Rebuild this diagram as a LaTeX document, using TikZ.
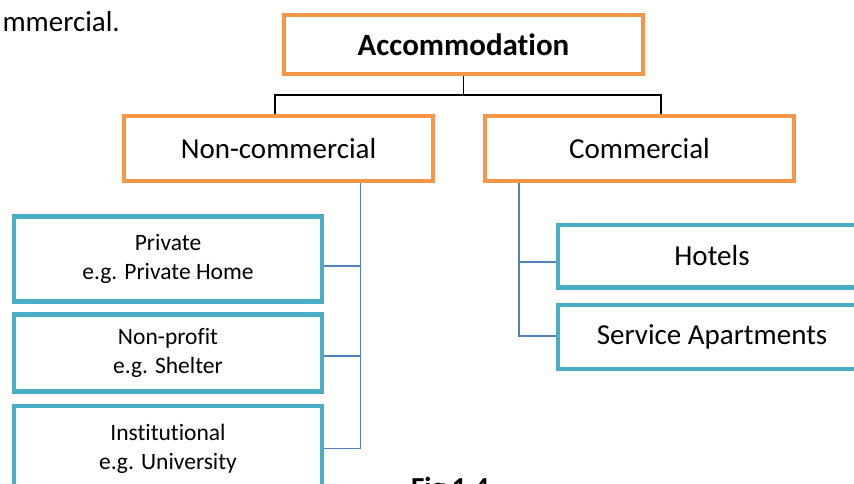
\documentclass[tikz,border=0pt]{standalone}
\usepackage{fontspec}
\setmainfont{Carlito}[Ligatures=NoCommon]
\usetikzlibrary{calc}
\definecolor{accorange}{HTML}{F79646}
\definecolor{accteal}{HTML}{4BACC6}
\definecolor{accblue}{HTML}{4F81BD}

\begin{document}
\begin{tikzpicture}[x=1pt,y=-1pt,
  topbox/.style={draw=accorange,line width=4.5pt,inner sep=0pt,align=center},
  subbox/.style={draw=accteal,line width=4.5pt,inner sep=0pt,align=center},
  bigtext/.style={font=\fontsize{29}{35}\selectfont},
  smalltext/.style={font=\fontsize{23.5}{29}\selectfont},
  blackline/.style={draw=black,line width=1.5pt},
  blueline/.style={draw=accblue,line width=1.8pt}]
  \useasboundingbox (0,0) rectangle (854,483);
  \clip (0,0) rectangle (854,483);
% 
  \node[bigtext,anchor=base west] (lead) at (-1,31.5) {mmercial.};
  \node[topbox,minimum width=359pt,minimum height=59pt,font=\bfseries\fontsize{31}{37}\selectfont] (acc) at (463.5,44.5) {Accommodation};
  \node[topbox,bigtext,minimum width=309pt,minimum height=65pt] (noncom) at (278.5,148.5) {Non-commercial};
  \node[topbox,bigtext,minimum width=309pt,minimum height=65pt] (com) at (639.5,148.5) {Commercial};
  \node[subbox,smalltext,minimum width=308pt,minimum height=85pt] (private) at (168,259) {Private\\e.g. Private Home};
  \node[subbox,smalltext,minimum width=308pt,minimum height=77pt] (nonprofit) at (168,353) {Non-profit\\e.g. Shelter};
  \node[subbox,smalltext,minimum width=308pt,minimum height=85pt] (institution) at (168,448.5) {Institutional\\e.g. University};
  \node[subbox,bigtext,minimum width=308pt,minimum height=62.5pt] (hotels) at (712,256) {Hotels};
  \node[subbox,bigtext,minimum width=308pt,minimum height=64pt] (servapt) at (712,337) {Service Apartments};
  \node[font=\bfseries\fontsize{29}{35}\selectfont,anchor=base] (figcap) at (450,497.5) {Fig 1.4};
%
  \draw[blackline] (acc.south) -- ++(0,18.5) coordinate (fork);
  \draw[blackline] ([xshift=-3.5pt]noncom.north) |- (fork) -| ([xshift=21.5pt]com.north);
%
  \coordinate (lspine) at ([xshift=82pt]noncom.south);
  \draw[blueline] (lspine) |- (institution.east);
  \draw[blueline] ([yshift=-7pt]private.east) -- ([yshift=-7pt]private.east -| lspine);
  \draw[blueline] ([yshift=-3pt]nonprofit.east) -- ([yshift=-3pt]nonprofit.east -| lspine);
%
  \coordinate (rspine) at ([xshift=-120.5pt]com.south);
  \draw[blueline] (rspine) |- ([yshift=1.3pt]servapt.west);
  \draw[blueline] ([yshift=-6pt]hotels.west) -- ([yshift=-6pt]hotels.west -| rspine);
%
\end{tikzpicture}
\end{document}
